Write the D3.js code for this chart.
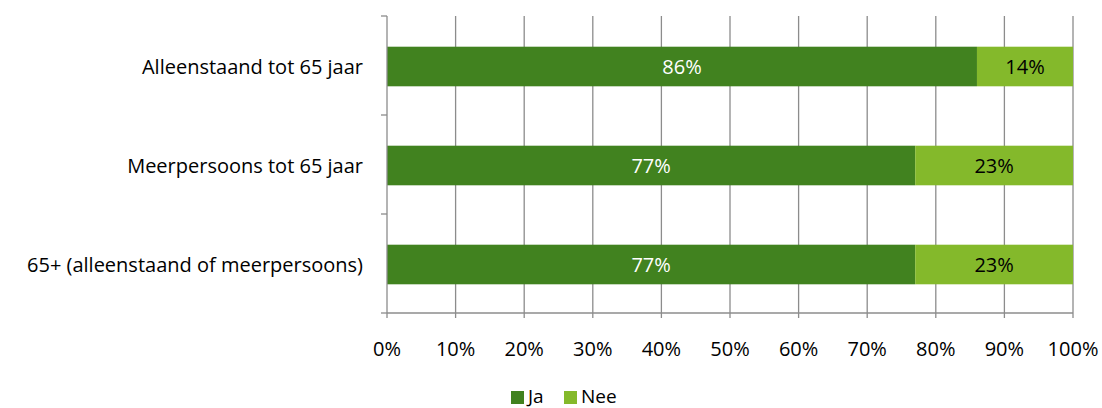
<!DOCTYPE html>
<html>
<head>
<meta charset="utf-8">
<script src="https://cdn.jsdelivr.net/npm/d3@7"></script>
<style>
  body { margin: 0; background: #fff; }
  text { font-family: "Open Sans", sans-serif; }
</style>
</head>
<body>
<svg id="chart"></svg>
<script>
var categories = ["Alleenstaand tot 65 jaar", "Meerpersoons tot 65 jaar", "65+ (alleenstaand of meerpersoons)"];
var ja = [86, 77, 77];
var nee = [14, 23, 23];
var seriesNames = ["Ja", "Nee"];
var colors = ["#41821f", "#84b92b"];
var ticks = [0, 10, 20, 30, 40, 50, 60, 70, 80, 90, 100];

var width = 1102, height = 408;
var plotLeft = 387, plotRight = 1073, plotTop = 16, plotBottom = 313;
var fs = 20;

var svg = d3.select("#chart").attr("width", width).attr("height", height);

var x = d3.scaleLinear().domain([0, 100]).range([plotLeft, plotRight]);
var y = d3.scaleBand().domain(categories).range([plotTop, plotBottom]).paddingInner(0.6).paddingOuter(0.3);
var yOuter = d3.scaleBand().domain(categories).range([plotTop, plotBottom]);

// gridlines
svg.selectAll("line.grid")
   .data(ticks.slice(1))
   .enter().append("line")
   .attr("x1", function(d) { return x(d); })
   .attr("x2", function(d) { return x(d); })
   .attr("y1", plotTop)
   .attr("y2", plotBottom + 5)
   .attr("stroke", "#8c8c8c")
   .attr("stroke-width", 1.3);

// bars
var rows = categories.map(function(c, i) { return { cat: c, ja: ja[i], nee: nee[i] }; });
var g = svg.selectAll("g.row").data(rows).enter().append("g");

g.append("rect")
 .attr("x", x(0))
 .attr("y", function(d) { return y(d.cat) + 1; })
 .attr("width", function(d) { return x(d.ja) - x(0); })
 .attr("height", y.bandwidth())
 .attr("fill", colors[0]);

g.append("rect")
 .attr("x", function(d) { return x(d.ja); })
 .attr("y", function(d) { return y(d.cat) + 1; })
 .attr("width", function(d) { return x(d.ja + d.nee) - x(d.ja); })
 .attr("height", y.bandwidth())
 .attr("fill", colors[1]);

g.append("text")
 .attr("x", function(d) { return x(d.ja / 2); })
 .attr("y", function(d) { return y(d.cat) + y.bandwidth() / 2 + 8; })
 .attr("text-anchor", "middle")
 .attr("font-size", fs)
 .attr("fill", "#fff")
 .text(function(d) { return d.ja + "%"; });

g.append("text")
 .attr("x", function(d) { return x(d.ja + d.nee / 2); })
 .attr("y", function(d) { return y(d.cat) + y.bandwidth() / 2 + 8; })
 .attr("text-anchor", "middle")
 .attr("font-size", fs)
 .attr("fill", "#000")
 .text(function(d) { return d.nee + "%"; });

// y axis
svg.append("line")
   .attr("x1", plotLeft).attr("x2", plotLeft)
   .attr("y1", plotTop).attr("y2", plotBottom)
   .attr("stroke", "#8c8c8c").attr("stroke-width", 1.3);
var yTicks = categories.map(function(c) { return yOuter(c); }).concat([plotBottom]);
svg.selectAll("line.ytick")
   .data(yTicks)
   .enter().append("line")
   .attr("x1", plotLeft - 6).attr("x2", plotLeft)
   .attr("y1", function(d) { return d; })
   .attr("y2", function(d) { return d; })
   .attr("stroke", "#8c8c8c").attr("stroke-width", 1.3);

svg.selectAll("text.ylab")
   .data(categories)
   .enter().append("text")
   .attr("x", plotLeft - 24)
   .attr("y", function(d) { return y(d) + y.bandwidth() / 2 + 8; })
   .attr("text-anchor", "end")
   .attr("font-size", fs)
   .attr("fill", "#000")
   .text(function(d) { return d; });

// x axis
svg.append("line")
   .attr("x1", plotLeft).attr("x2", plotRight)
   .attr("y1", plotBottom).attr("y2", plotBottom)
   .attr("stroke", "#8c8c8c").attr("stroke-width", 1.3);
svg.append("line")
   .attr("x1", plotLeft).attr("x2", plotLeft)
   .attr("y1", plotBottom).attr("y2", plotBottom + 5)
   .attr("stroke", "#8c8c8c").attr("stroke-width", 1.3);

svg.selectAll("text.xlab")
   .data(ticks)
   .enter().append("text")
   .attr("x", function(d) { return x(d); })
   .attr("y", 356)
   .attr("text-anchor", "middle")
   .attr("font-size", fs)
   .attr("fill", "#000")
   .text(function(d) { return d + "%"; });

// legend
var legendX = [511, 564];
var lg = svg.selectAll("g.legend").data(seriesNames).enter().append("g");
lg.append("rect")
  .attr("x", function(d, i) { return legendX[i]; })
  .attr("y", 391)
  .attr("width", 13).attr("height", 13)
  .attr("fill", function(d, i) { return colors[i]; });
lg.append("text")
  .attr("x", function(d, i) { return legendX[i] + 17; })
  .attr("y", 403)
  .attr("font-size", fs - 1)
  .attr("fill", "#000")
  .text(function(d) { return d; });
</script>
</body>
</html>
